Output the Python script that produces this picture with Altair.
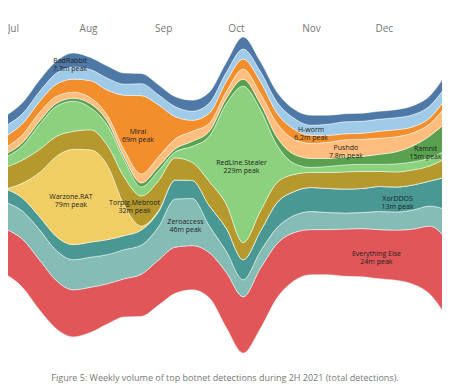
import altair as alt
import pandas as pd

# weekly points, Jun 28 2021 -> Dec 27 2021
start = "2021-06-28"
n_weeks = 27
x_domain = ["2021-06-29", "2021-12-25"]

series = ["Everything Else", "Zeroaccess", "XorDDOS", "Warzone.RAT", "Torpig.Mebroot",
          "RedLine.Stealer", "Ramnit", "Pushdo", "Mirai", "H-worm", "BadRabbit"]
colors = ["#e15759", "#86bcb6", "#499894", "#f1ce63", "#b6992d",
          "#8cd17d", "#59a14f", "#ffbe7d", "#f28e2b", "#a0cbe8", "#4e79a7"]

everything_else = [45, 48, 50, 48, 47, 45, 40, 38, 42, 45, 46, 44, 45, 55, 56, 60, 54, 48, 45, 45, 47, 48, 49, 50, 55, 68, 77]
zeroaccess      = [26.7, 28, 30, 30, 30, 30, 29, 29, 29, 33, 48, 47, 27, 21, 17, 17, 16, 17, 18, 17, 16, 16, 18, 18, 19, 20, 30]
xorddos         = [13.3, 13, 13, 14, 15, 15, 15, 14, 15, 15, 19, 18, 20, 23, 20, 20, 25, 24, 24, 24, 24, 24, 25, 25, 25, 25, 33]
warzone         = [0, 15, 44, 80, 95, 92, 74, 30, 4, 1, 0, 0, 0, 0, 0, 0, 0, 0, 0, 0, 0, 0, 0, 0, 0, 0, 0]
torpig          = [21.7, 23, 23, 20, 18, 20, 20, 28, 30, 30, 22, 18, 24, 24, 17, 20, 20, 17, 15, 16, 17, 17, 15, 15, 15, 15, 19]
redline         = [10, 14, 25, 30, 30, 22, 20, 17, 9, 10, 6, 16, 45, 100, 156, 102, 37, 11, 5, 6, 7, 7, 7, 8, 8, 8, 8]
ramnit          = [3.3, 3.3, 3.3, 3, 3, 4, 4, 3, 4, 4, 3, 5, 5, 5, 7, 6, 8, 9, 9, 8, 8, 8, 10, 12, 16, 22, 28]
pushdo          = [6.5, 8, 8.5, 7, 6, 6, 6, 7, 9, 10, 10, 10, 8, 7, 10, 10, 14, 15, 15, 16, 17, 17, 16, 15, 13, 12, 17]
mirai           = [11, 11, 11, 12, 13, 17, 25, 55, 78, 52, 22, 11, 10, 10, 10, 12, 10, 10, 8, 7, 6, 6, 7, 7, 6, 6, 8]
hworm           = [10.5, 10, 10, 11, 12, 11, 12, 11, 12, 10, 10, 9, 10, 9, 10, 10, 11, 11, 10, 11, 12, 12, 12, 12, 12, 12, 12]
badrabbit       = [10, 11, 11.5, 12, 14, 12, 12, 11, 10, 10, 10, 11, 11, 10, 12, 10, 10, 9, 10, 9, 8, 8, 8, 8, 9, 10, 12]

values = [everything_else, zeroaccess, xorddos, warzone, torpig,
          redline, ramnit, pushdo, mirai, hworm, badrabbit]

# labels: series, position in weeks, text
label_series = ["BadRabbit", "Mirai", "Warzone.RAT", "Torpig.Mebroot", "Zeroaccess",
                "RedLine.Stealer", "H-worm", "Pushdo", "Ramnit", "XorDDOS", "Everything Else"]
label_pos = [3.8, 7.8, 3.85, 7.6, 10.6, 13.9, 18.0, 20.05, 24.75, 23.1, 21.85]
label_text = ["BadRabbit\n7.3m peak", "Mirai\n69m peak", "Warzone.RAT\n79m peak",
              "Torpig.Mebroot\n32m peak", "Zeroaccess\n46m peak", "RedLine.Stealer\n229m peak",
              "H-worm\n6.2m peak", "Pushdo\n7.8m peak", "Ramnit\n15m peak",
              "XorDDOS\n13m peak", "Everything Else\n24m peak"]

caption = "Figure 5: Weekly volume of top botnet detections during 2H 2021 (total detections)."

dates = pd.date_range(start, periods=n_weeks, freq="7D")
rows = []
for i, (s, vals) in enumerate(zip(series, values)):
    for d, v in zip(dates, vals):
        rows.append({"date": d.strftime("%Y-%m-%d"), "series": s, "value": v, "ord": i})
df = pd.DataFrame(rows)

totals = [sum(v[w] for v in values) for w in range(n_weeks)]
M = max(totals)


def mid(si, w):
    below = sum(values[k][w] for k in range(si))
    return (M - totals[w]) / 2 + below + values[si][w] / 2


lrows = []
for s, p, t in zip(label_series, label_pos, label_text):
    si = series.index(s)
    w0 = int(p)
    w1 = min(w0 + 1, n_weeks - 1)
    f = p - w0
    y = mid(si, w0) * (1 - f) + mid(si, w1) * f
    d = pd.Timestamp(start) + pd.Timedelta(days=p * 7)
    lrows.append({"date": d.strftime("%Y-%m-%dT%H:%M:%SZ"), "y": y, "text": t})
ldf = pd.DataFrame(lrows)

xscale = alt.Scale(type="utc", domain=x_domain)
yscale = alt.Scale(domain=[0, M], nice=False, zero=False)

areas = alt.Chart(df).mark_area(interpolate="monotone", stroke="white", strokeWidth=0.6,
                                strokeOpacity=0.8, clip=True).encode(
    x=alt.X("date:T", scale=xscale,
            axis=alt.Axis(orient="top", format="%b", tickCount="month", ticks=False, tickSize=0,
                          domain=False, grid=False, title=None, labelColor="#777777",
                          labelFontSize=10, labelFont="Open Sans", labelPadding=4,
                          labelFlush=False, labelOverlap=False, labelBound=False)),
    y=alt.Y("value:Q", stack="center", scale=yscale, axis=None),
    color=alt.Color("series:N", scale=alt.Scale(domain=series, range=colors), legend=None),
    order=alt.Order("ord:Q", sort="ascending"),
)

labels = alt.Chart(ldf).mark_text(lineBreak="\n", fontSize=7, font="Open Sans",
                                  color="#222222", lineHeight=8, baseline="middle").encode(
    x=alt.X("date:T", scale=xscale),
    y=alt.Y("y:Q", scale=yscale),
    text="text:N",
)

chart = alt.layer(areas, labels).properties(
    width=434, height=316,
    autosize="none",
    padding={"left": 0, "top": 29, "right": 0, "bottom": 36},
    title=alt.TitleParams(text=caption, orient="bottom", anchor="middle", fontSize=9,
                          fontWeight="normal", color="#777777", font="Open Sans", offset=21),
).configure_view(stroke=None)

chart.save("out.html", embed_options={"renderer": "svg", "actions": False})
